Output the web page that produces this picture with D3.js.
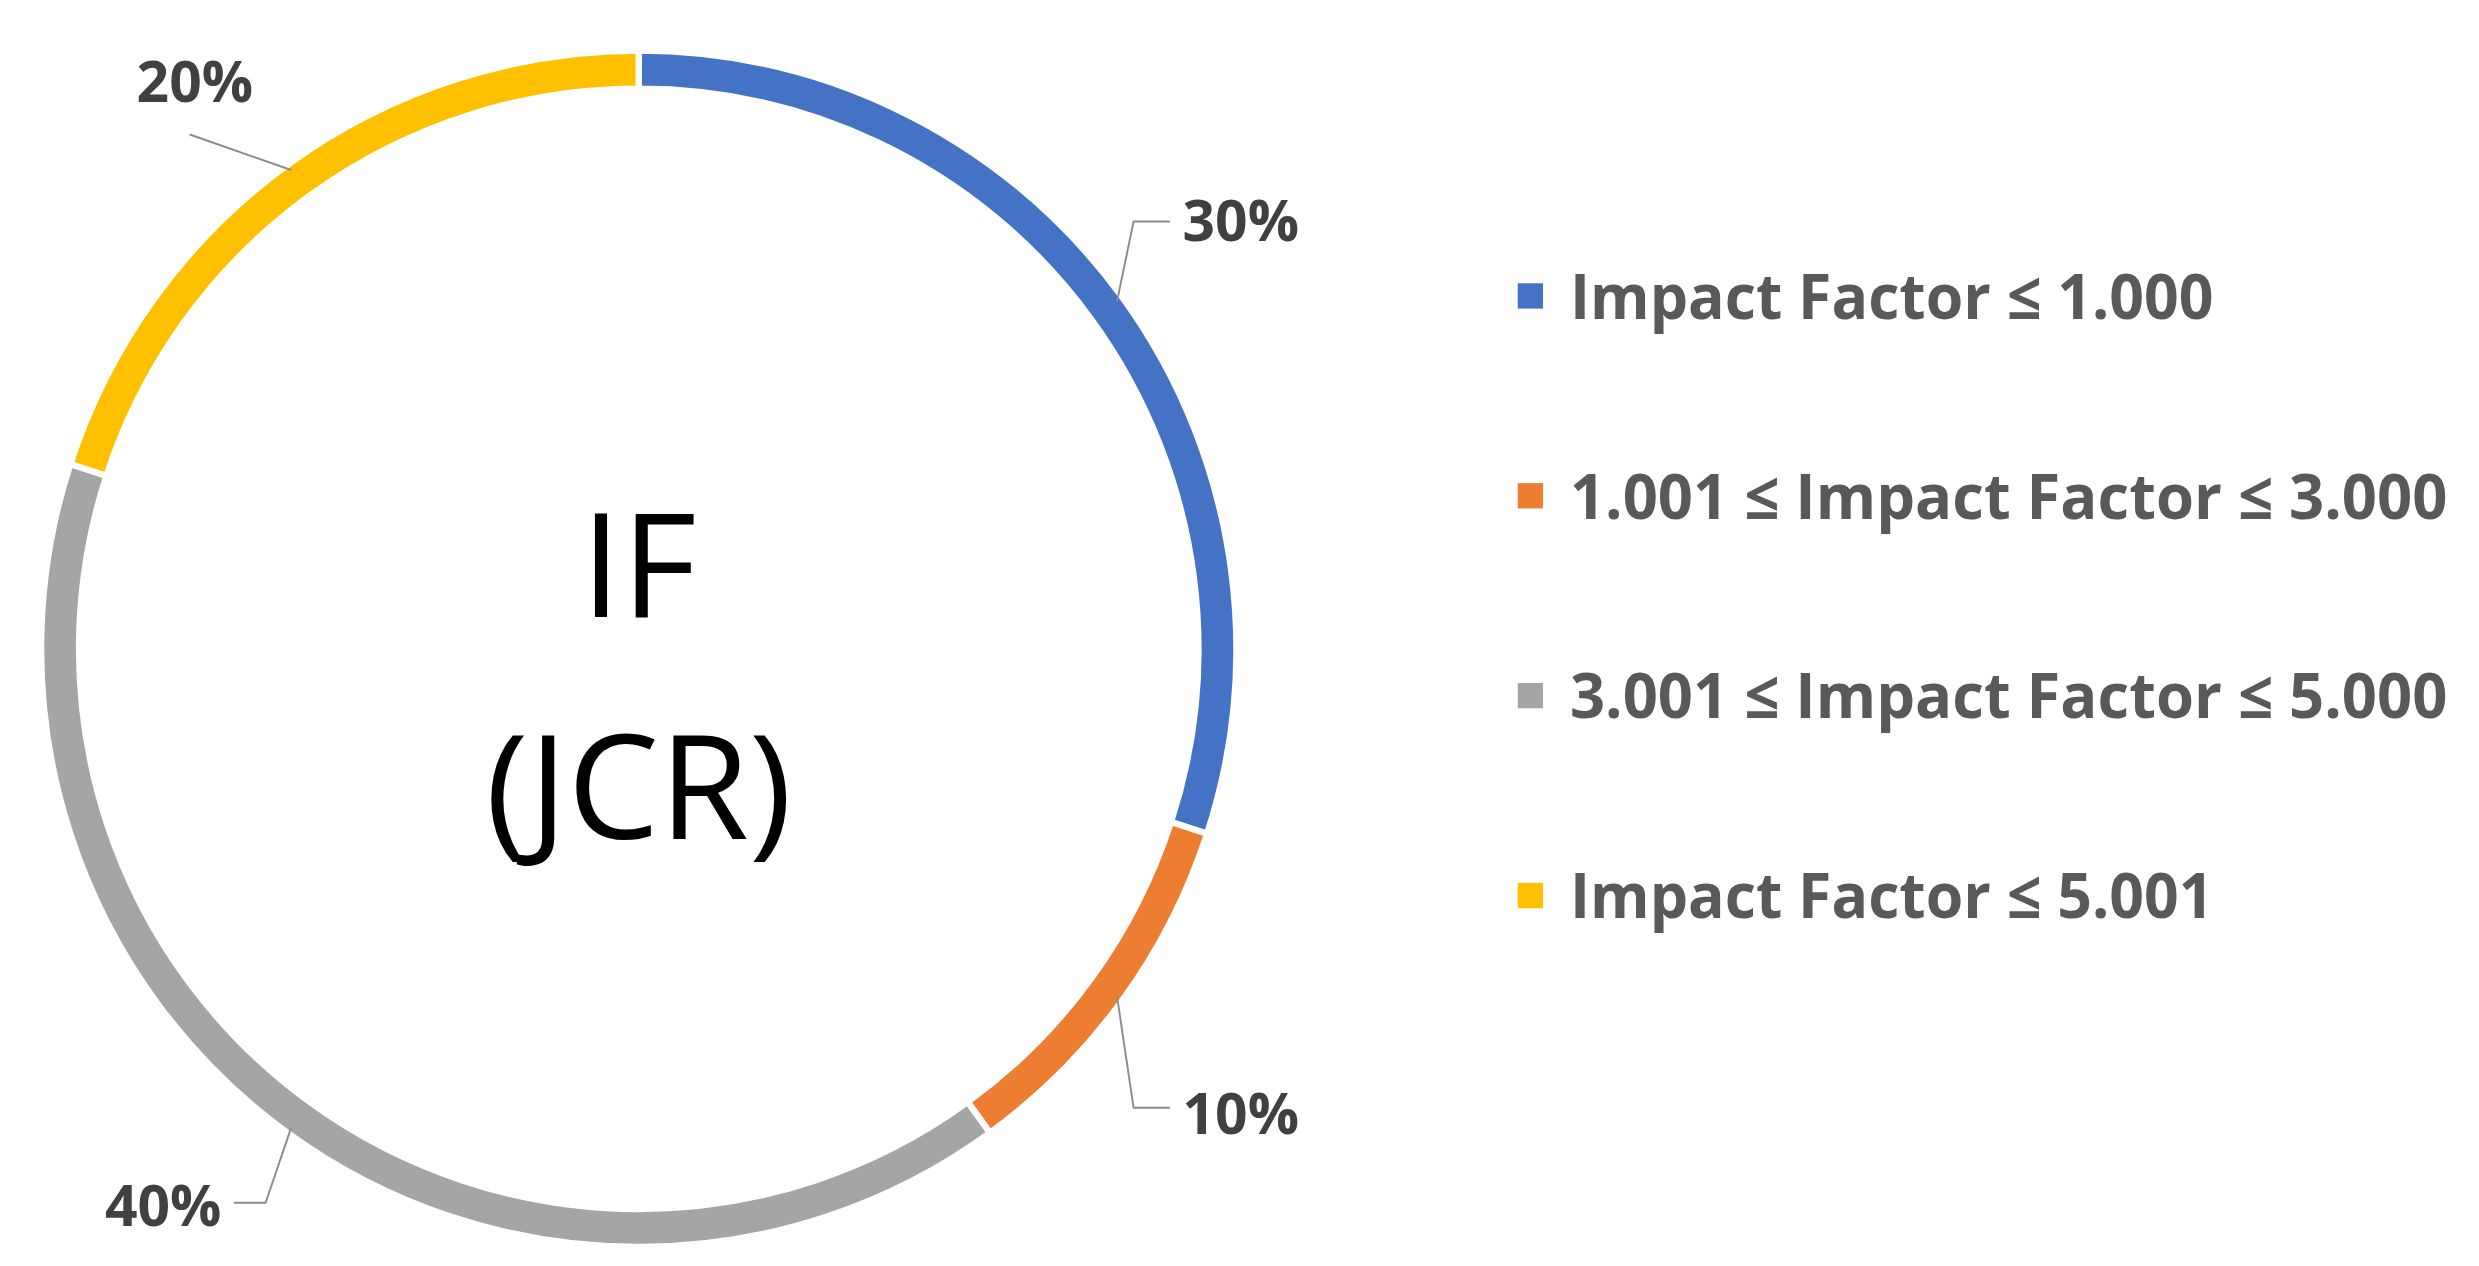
<!doctype html>
<html>
<head>
<meta charset="UTF-8">
<script src="https://d3js.org/d3.v7.min.js"></script>
<style>body{margin:0;background:#fff}</style>
</head>
<body>
<script>
var categories = ["Impact Factor ≤ 1.000", "1.001 ≤ Impact Factor ≤ 3.000", "3.001 ≤ Impact Factor ≤ 5.000", "Impact Factor ≤ 5.001"];
var values = [30, 10, 40, 20];
var colors = ["#4472c4", "#ed7d31", "#a5a5a5", "#ffc000"];
// label placement per slice: [label x, label y, elbow x, elbow y, anchor]
var labelPos = [[748, 140, 717, 140, "start"], [748, 704, 717, 700, "start"], [140, 762, 168, 760, "end"], [160, 52, 120, 85, "end"]];

var W = 1568, H = 800, cx = 404, cy = 410, rOut = 378, rIn = 354;

var svg = d3.select("body").append("svg")
  .attr("width", 2479).attr("height", 1266)
  .attr("viewBox", "0 0 " + W + " " + H)
  .attr("preserveAspectRatio", "none");

var pie = d3.pie().sort(null)(values);
var arc = d3.arc().innerRadius(rIn).outerRadius(rOut);
var g = svg.append("g").attr("transform", "translate(" + cx + "," + cy + ")");

g.selectAll("path").data(pie).enter().append("path")
  .attr("d", arc)
  .attr("fill", function(d, i){ return colors[i]; })
  .attr("stroke", "#fff").attr("stroke-width", 4);

// leader lines and labels
pie.forEach(function(d, i){
  var a = (d.startAngle + d.endAngle) / 2;
  var sx = cx + (rOut - 4) * Math.sin(a), sy = cy - (rOut - 4) * Math.cos(a);
  var p = labelPos[i];
  var ex = p[4] == "start" ? p[0] - 8 : p[0] + 8;
  var pts = i == 3 ? [[sx, sy], [p[2], p[3]]] : [[sx, sy], [p[2], p[3]], [ex, p[3]]];
  svg.append("path").attr("d", d3.line()(pts))
    .attr("fill", "none").attr("stroke", "#8c8c8c").attr("stroke-width", 1.2);
  svg.append("text").attr("x", p[0]).attr("y", p[1]).attr("dy", "0.35em")
    .attr("text-anchor", p[4])
    .style("font", "bold 36px 'Open Sans', sans-serif").style("fill", "#404040")
    .text(values[i] + "%");
});

svg.append("text").attr("x", cx).attr("y", 390).attr("text-anchor", "middle")
  .style("font", "92px 'Open Sans', sans-serif").style("fill", "#000").text("IF");
svg.append("text").attr("x", cx).attr("y", 530).attr("text-anchor", "middle")
  .style("font", "92px 'Open Sans', sans-serif").style("fill", "#000").text("(JCR)");

var legend = svg.selectAll("g.leg").data(categories).enter().append("g")
  .attr("transform", function(d, i){ return "translate(968," + (187 + i * 126.3) + ")"; });
legend.append("rect").attr("x", -8).attr("y", -8).attr("width", 16).attr("height", 16)
  .attr("fill", function(d, i){ return colors[i]; });
legend.append("text").attr("x", 25).attr("dy", "0.36em")
  .style("font", "bold 40px 'Open Sans', sans-serif").style("fill", "#595959")
  .attr("lengthAdjust", "spacingAndGlyphs")
  .attr("textLength", function(d, i){ return i == 0 || i == 3 ? 407 : 555; })
  .text(function(d){ return d; });
</script>
</body>
</html>
